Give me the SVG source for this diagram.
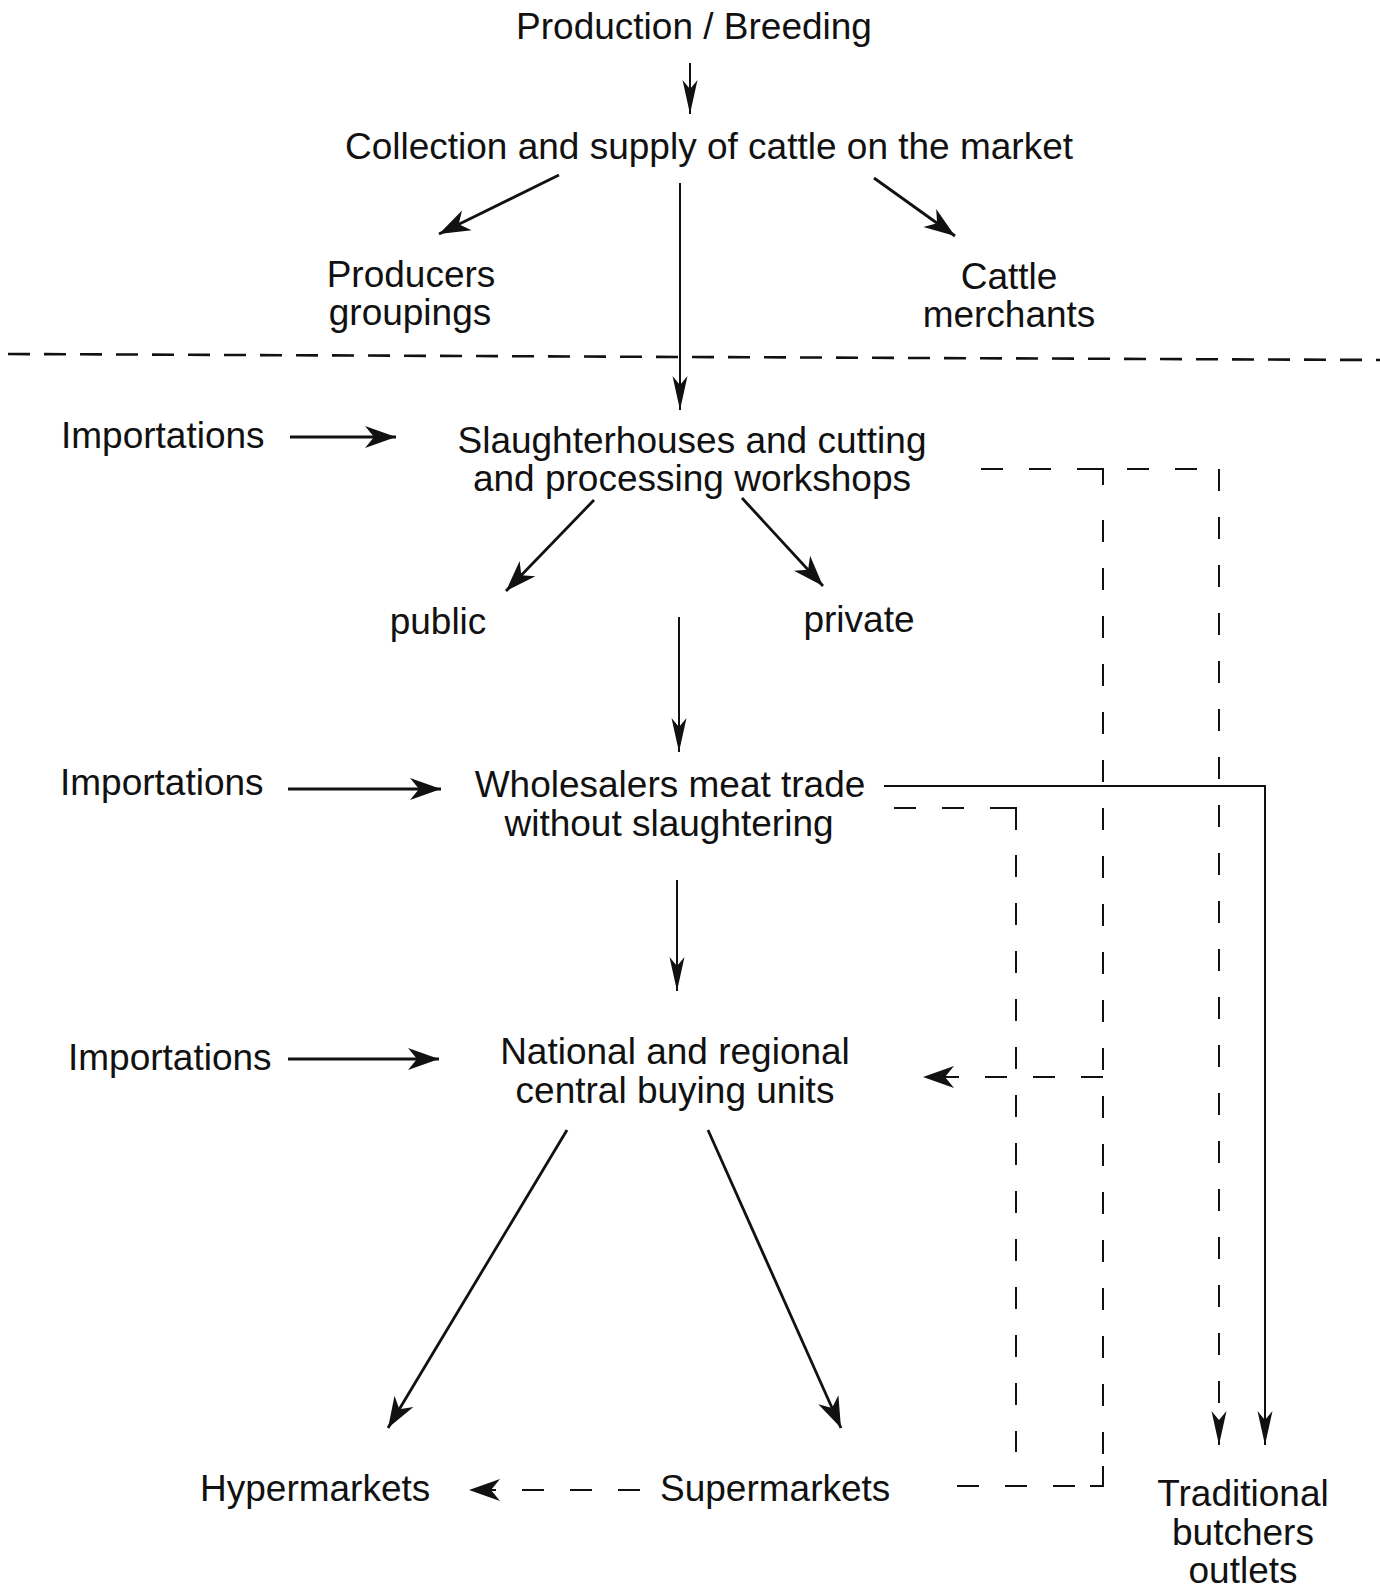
<svg xmlns="http://www.w3.org/2000/svg" width="1380" height="1593" viewBox="0 0 1380 1593">
<style>
text{font-family:"Liberation Sans",Arial,Helvetica,sans-serif;font-size:37px;fill:#111}
.m{text-anchor:middle}
.s{fill:none;stroke:#111;stroke-width:2}
.t{fill:none;stroke:#111;stroke-width:2.8}
.d{fill:none;stroke:#111;stroke-width:2;stroke-dasharray:22 26}
.top{fill:none;stroke:#111;stroke-width:2.6;stroke-dasharray:22 14}
.w{marker-end:url(#ah)}
.n{marker-end:url(#ahn)}
</style>
<defs>
<marker id="ah" markerUnits="userSpaceOnUse" viewBox="-34 -13 36 26" markerWidth="36" markerHeight="26" refX="0" refY="0" orient="auto">
<path d="M0,0 L-31,-11 L-22,0 L-31,11 Z" fill="#111"/>
</marker>
<marker id="ahn" markerUnits="userSpaceOnUse" viewBox="-36 -9 38 18" markerWidth="38" markerHeight="18" refX="0" refY="0" orient="auto">
<path d="M0,0 L-34,-7.5 L-25,0 L-34,7.5 Z" fill="#111"/>
</marker>
</defs>
<rect width="1380" height="1593" fill="#fff"/>

<g id="connectors">
<line class="s n" x1="690" y1="63" x2="690" y2="114"/>
<line class="t w" x1="559" y1="175" x2="439" y2="234"/>
<line class="t w" x1="874" y1="178" x2="955" y2="236"/>
<line class="s n" x1="680" y1="183" x2="680" y2="410"/>
<line class="top" x1="8" y1="354" x2="1380" y2="360"/>
<line class="t w" x1="290" y1="437" x2="396" y2="437"/>
<line class="t w" x1="594" y1="500" x2="506" y2="591"/>
<line class="t w" x1="742" y1="498" x2="823" y2="586"/>
<line class="s n" x1="679" y1="617" x2="679" y2="752"/>
<line class="t w" x1="288" y1="789" x2="441" y2="789"/>
<line class="s n" x1="677" y1="880" x2="677" y2="991"/>
<line class="t w" x1="288" y1="1059" x2="439" y2="1059"/>
<line class="t w" x1="567" y1="1130" x2="388" y2="1428"/>
<line class="t w" x1="708" y1="1130" x2="841" y2="1428"/>
<line class="d w" x1="640" y1="1490" x2="469" y2="1490"/>
<!-- from slaughterhouses (dashed) -->
<line class="d" x1="981" y1="469" x2="1090" y2="469"/>
<polyline class="s" points="1079,469 1103,469 1103,485"/>
<line class="d" x1="1103" y1="520" x2="1103" y2="1470"/>
<polyline class="s" points="1103,1466 1103,1486 1090,1486"/>
<line class="d" x1="1075" y1="1486" x2="935" y2="1486"/>
<line class="d" x1="1127" y1="469" x2="1215" y2="469"/>
<line class="d n" x1="1219" y1="469" x2="1219" y2="1445"/>
<line class="d w" x1="1103" y1="1077" x2="923" y2="1077"/>
<!-- from wholesalers -->
<polyline class="s n" points="884,786 1265,786 1265,1445"/>
<line class="d" x1="894" y1="808" x2="1000" y2="808"/>
<polyline class="s" points="990,808 1016,808 1016,830"/>
<line class="d" x1="1016" y1="855" x2="1016" y2="1452"/>
</g>

<g id="production"><text class="m" x="694" y="39">Production / Breeding</text></g>
<g id="collection"><text class="m" x="709" y="159">Collection and supply of cattle on the market</text></g>
<g id="producers"><text class="m" x="411" y="287">Producers</text><text class="m" x="410" y="325">groupings</text></g>
<g id="cattle"><text class="m" x="1009" y="289">Cattle</text><text class="m" x="1009" y="327">merchants</text></g>
<g id="imp1"><text x="61" y="448">Importations</text></g>
<g id="slaughter"><text class="m" x="692" y="453">Slaughterhouses and cutting</text><text class="m" x="692" y="491">and processing workshops</text></g>
<g id="public"><text class="m" x="438" y="634">public</text></g>
<g id="private"><text class="m" x="859" y="632">private</text></g>
<g id="imp2"><text x="60" y="795">Importations</text></g>
<g id="wholesalers"><text class="m" x="670" y="797">Wholesalers meat trade</text><text class="m" x="669" y="836">without slaughtering</text></g>
<g id="imp3"><text x="68" y="1070">Importations</text></g>
<g id="national"><text class="m" x="675" y="1064">National and regional</text><text class="m" x="675" y="1103">central buying units</text></g>
<g id="hyper"><text x="200" y="1501">Hypermarkets</text></g>
<g id="super"><text x="660" y="1501">Supermarkets</text></g>
<g id="butchers"><text class="m" x="1243" y="1506">Traditional</text><text class="m" x="1243" y="1545">butchers</text><text class="m" x="1243" y="1583">outlets</text></g>
</svg>
